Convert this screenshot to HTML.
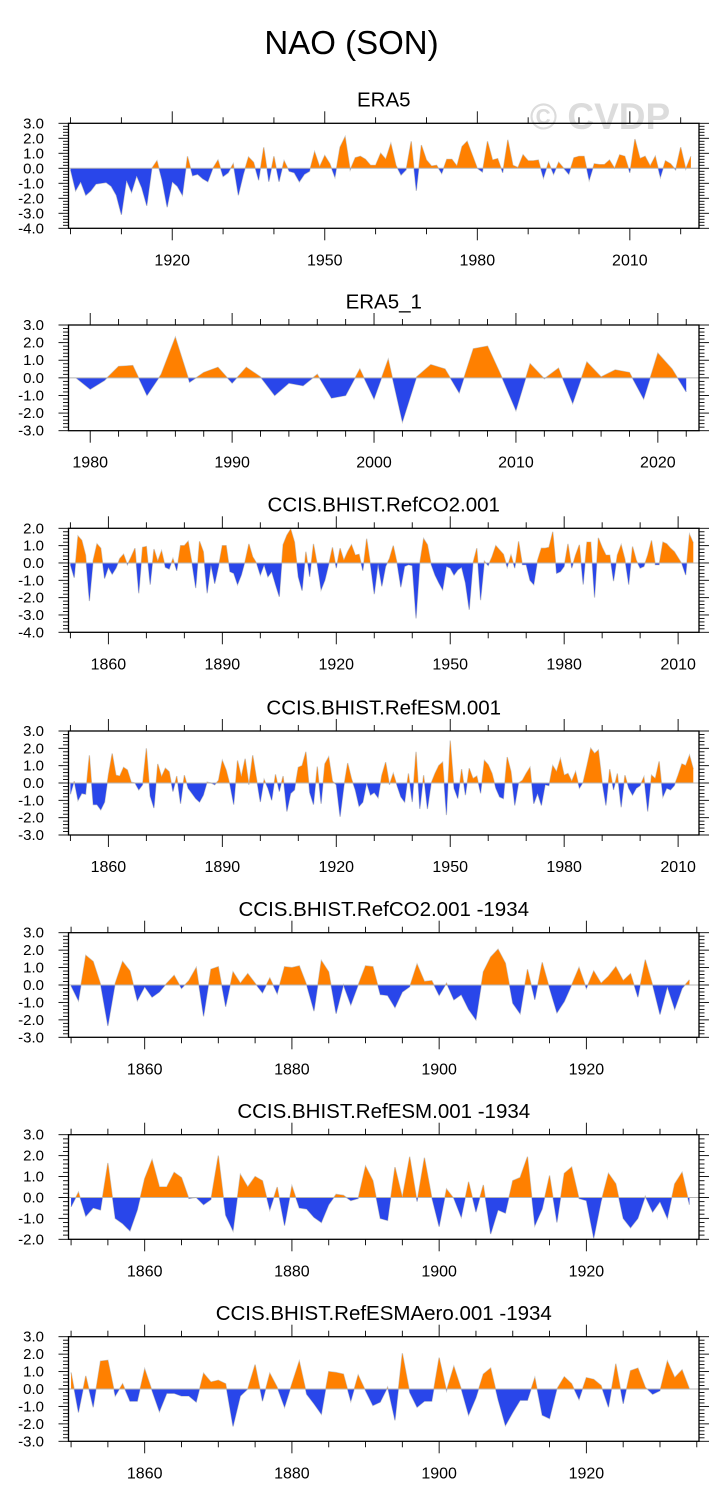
<!DOCTYPE html>
<html><head><meta charset="utf-8"><style>
html,body{margin:0;padding:0;background:#fff;}
svg{display:block;font-family:"Liberation Sans",Arial,sans-serif;}
</style></head>
<body>
<svg id="chart" width="728" height="1510" viewBox="0 0 728 1510" xmlns="http://www.w3.org/2000/svg">
<rect x="0" y="0" width="728" height="1510" fill="#fff"/>
<text x="351.5" y="54" font-size="33" text-anchor="middle" fill="#000">NAO (SON)</text>
<text x="600" y="129" font-size="37" font-weight="bold" text-anchor="middle" fill="#dcdcdc">© CVDP</text>
</svg>
<script>
const era5Start = 1900;
const era5Values = [
-0.1,-1.5,-0.9,-1.8,-1.5,-1.05,-1.0,-0.95,-1.2,-1.8,
-3.1,-0.8,-1.6,-0.5,-1.3,-2.5,0.0,0.5,-0.8,-2.6,
-0.9,-1.2,-1.8,0.8,-0.5,-0.4,-0.7,-0.9,0.0,0.55,
-0.55,-0.3,0.3,-1.8,-0.4,0.75,0.4,-0.8,1.4,-0.9,
0.8,-0.9,0.5,-0.2,-0.3,-0.9,-0.4,-0.2,1.1,0.1,
0.85,0.3,-0.6,1.4,2.1,-0.1,0.7,0.8,0.6,0.2,
0.2,1.0,0.6,1.65,0.2,-0.45,-0.1,1.8,-1.5,1.55,
0.55,0.15,0.2,-0.35,0.6,0.6,0.15,1.45,1.8,0.9,
0.0,-0.25,1.8,0.55,0.65,-0.3,1.9,0.2,0.05,0.9,
0.5,0.5,0.55,-0.65,0.4,-0.4,0.4,0,-0.4,0.7,
0.8,0.8,-0.8,0.3,0.25,0.25,0.55,0,0.9,0.8,
-0.3,1.95,0.65,0.8,0.15,0.8,-0.6,0.5,0.3,-0.1,
1.4,-0.05,0.8];
const era5Ticks = [1920,1950,1980,2010];

const era51Start = 1979;
const era51Values = [
0.0,-0.65,-0.15,0.65,0.7,-1.0,0.2,2.3,-0.25,0.3,0.6,
-0.3,0.6,0.05,-1.0,-0.3,-0.45,0.2,-1.15,-1.0,0.5,
-1.2,1.05,-2.5,0.05,0.75,0.5,-0.85,1.65,1.8,0.05,
-1.85,0.8,-0.05,0.55,-1.45,0.9,0.05,0.45,0.3,-1.2,
1.4,0.5,-0.8];
const era51Ticks = [1980,1990,2000,2010,2020];

const co2Start = 1850;
const co2Values = [
-0.1,-0.85,1.55,1.3,0.45,-2.2,0.15,1.1,0.85,-0.9,
-0.25,-0.65,-0.3,0.25,0.5,-0.1,0.35,0.85,-1.75,0.9,
0.95,-1.25,0.8,0.1,0.7,-0.25,-0.35,0.25,-0.45,1.0,
1.0,1.25,0,-1.45,1.25,0.65,-1.75,-0.1,-1.2,-0.2,
1.0,1.0,-0.5,-0.6,-1.25,-0.7,0.1,1.1,0.35,0,
-0.7,-0.1,-0.8,-0.5,-1.25,-1.95,1.05,1.6,1.95,1.2,
-0.8,-1.6,0.65,-0.8,1.1,-0.1,-1.55,-1.0,-0.1,0.9,
-0.3,0.85,0.15,0.65,1.05,0.45,0.5,-0.45,1.4,-0.1,
-1.8,-0.05,-1.35,-0.2,0.25,1.0,0,-1.4,-0.2,-0.1,
-0.15,-3.2,0,1.4,1.05,-0.1,-0.7,-1.15,-1.55,-0.2,
-0.3,-0.7,-0.4,-0.25,-1.15,-2.7,0,0.85,-2.15,0.1,
-0.15,0.35,1.0,0.75,0.5,-0.25,0.45,-0.3,1.25,-0.1,
-0.1,-1.0,-1.25,0.15,0.85,0.85,0.9,1.8,-0.6,-0.5,
-0.2,1.1,-0.3,0.45,1.05,-1.25,1.2,1.2,-2.0,1.45,
0.9,0.45,0.45,-1.05,0.45,1.05,0.2,-1.25,0.95,0.15,
-0.3,-0.2,0.45,1.3,-0.1,-0.1,1.2,1.1,0.85,0.65,
0.3,-0.05,-0.7,1.65,1.15];
const longTicks = [1860,1890,1920,1950,1980,2010];

const esmStart = 1850;
const esmValues = [
-0.65,0.1,-1.0,-0.6,-0.65,1.6,-1.25,-1.25,-1.55,-1.1,
0.45,1.7,0.45,0.4,0.9,0.75,0.05,0,-0.4,-0.1,
2.0,-0.75,-1.45,1.1,0.35,0.85,0.65,-0.5,0.4,-1.2,
0.45,-0.3,-0.6,-0.9,-1.1,-0.7,0.05,0,-0.1,0.15,
1.3,0.75,-0.1,-1.25,1.3,0.35,1.4,-0.1,1.6,0.25,
-1.1,0.2,-0.3,-1.0,0.5,-0.5,0.4,-1.65,-0.6,-0.4,
0.9,1.0,1.8,-0.55,-1.25,0.95,-1.2,1.1,1.5,0.1,
-0.1,-1.95,-0.2,1.15,0.25,-0.4,-1.35,-1.1,0,-0.7,
-0.55,-0.85,0.45,1.2,-0.1,0.55,-0.15,-0.8,-1.1,0.55,
-1.1,1.8,-1.5,0.45,-1.5,0,0.55,1.0,1.2,-1.85,
2.45,-0.3,-0.9,0.8,-0.7,0.85,0.25,0.4,-0.6,1.3,
1.05,0.55,-0.3,-0.8,-0.9,1.5,0.65,-1.3,0,0.15,
0.55,0.9,-1.2,-0.6,-1.3,-0.1,-0.15,1.0,0.65,1.4,
0.45,0.55,0.1,0.65,-0.3,0.05,1.0,2.0,1.7,1.9,
0.05,-1.3,0.8,-0.4,0.55,-1.4,0.45,-0.3,-0.7,-0.3,
-0.15,0.35,-1.65,0.45,0.25,1.25,-0.8,-0.3,-0.4,-0.15,
0.45,1.1,1.0,1.6,0.8];

const co2ShortStart = 1850;
const co2ShortValues = [
-0.05,-0.9,1.7,1.35,0.05,-2.35,0.1,1.35,0.8,-0.9,
-0.1,-0.7,-0.4,0.1,0.55,-0.2,0.25,1.0,-1.8,0.9,
1.05,-1.25,0.75,0.1,0.65,0.1,-0.45,0.4,-0.5,1.05,
1.0,1.1,0,-1.5,1.4,0.75,-1.65,0,-1.15,0,
1.1,1.05,-0.55,-0.6,-1.3,-0.4,-0.1,1.2,0.2,0.25,
-0.6,0.1,-0.85,-0.55,-1.4,-2.0,0.75,1.6,2.05,1.25,
-1.05,-1.65,0.9,-0.85,1.3,-0.2,-1.6,-0.95,0,1.0,
-0.2,0.8,0.1,0.5,1.05,0.25,0.65,-0.7,1.45,0,
-1.7,-0.1,-1.4,-0.2,0.3];
const shortTicks = [1860,1880,1900,1920];

const esmShortStart = 1850;
const esmShortValues = [
-0.45,0.25,-0.9,-0.5,-0.6,1.65,-1.0,-1.25,-1.6,-0.6,
0.9,1.8,0.5,0.5,1.2,0.95,-0.05,0,-0.35,-0.1,
2.0,-0.85,-1.6,1.1,0.5,1.0,0.8,-0.6,0.5,-1.35,
0.55,-0.5,-0.55,-0.95,-1.2,-0.35,0.15,0.1,-0.15,-0.05,
1.5,0.8,-1.0,-1.1,1.45,0,1.95,-0.2,1.9,0,
-1.4,0.4,-0.05,-0.95,0.75,-0.7,0.6,-1.75,-0.6,-0.75,
0.8,0.95,1.95,-1.35,-0.55,1.05,-1.2,1.15,1.45,-0.05,
-0.15,-1.95,-0.2,1.15,0.65,-1.0,-1.45,-1.0,0.05,-0.7,
-0.2,-1.0,0.65,1.2,-0.35];

const aeroStart = 1850;
const aeroValues = [
0.95,-1.35,0.75,-1.05,1.6,1.65,-0.4,0.3,-0.7,-0.7,
1.15,-0.1,-1.3,-0.25,-0.25,-0.4,-0.4,-0.75,0.9,0.4,
0.5,0.3,-2.15,-0.4,0,1.4,-0.7,0.9,0.1,-1.05,
0.3,1.6,-0.3,-0.85,-1.45,1.0,0.95,0.85,-0.7,0.8,
-0.1,-0.95,-0.75,0.1,-1.8,2.05,-0.2,-1.05,-0.7,-0.7,
1.8,-0.1,1.3,0,-1.5,-0.5,0.85,1.2,-0.6,-2.1,
-1.35,-0.65,-0.65,0.65,-1.5,-1.7,0,0.7,0.3,-0.6,
0.65,0.55,0.2,-1.05,1.45,-0.85,1.05,1.2,0.1,-0.3,
-0.1,1.6,0.65,1.1,0];

const NS = "http://www.w3.org/2000/svg";
const svg = document.getElementById('chart');
const ORANGE = "#ff8000", BLUE = "#2946ea";
const LEFT = 68.5, RIGHT = 699;

function mk(tag, attrs, parent) {
  const e = document.createElementNS(NS, tag);
  for (const k in attrs) e.setAttribute(k, attrs[k]);
  parent.appendChild(e);
  return e;
}

function drawPanel(p) {
  const g = mk('g', {}, svg);
  
  
  const sx = yr => LEFT + (yr - p.x0) / (p.x1 - p.x0) * (RIGHT - LEFT);
  const sy = v => p.top + (p.ymax - v) / (p.ymax - p.ymin) * (p.bottom - p.top);

  const t = mk('text', {x: (LEFT + RIGHT) / 2, y: p.top - 16.6, 'font-size': 20.5, 'text-anchor': 'middle', fill: '#000'}, g);
  t.textContent = p.title;
  
  

  // points with zero crossings
  const pts = [];
  for (let i = 0; i < p.values.length; i++) {
    const yr = p.start + i, v = p.values[i];
    if (i > 0) {
      const pv = p.values[i - 1];
      if ((pv > 0 && v < 0) || (pv < 0 && v > 0)) {
        const f = pv / (pv - v);
        pts.push([yr - 1 + f, 0]);
      }
    }
    pts.push([yr, v]);
  }
  const z = sy(0);
  const line = mk('polyline', {points: pts.map(q => sx(q[0]).toFixed(2) + ',' + sy(q[1]).toFixed(2)).join(' '), fill: 'none', stroke: '#c8c8c8', 'stroke-width': 1.2}, g);
  
  
  function poly(fn, color, nm) {
    let d = 'M' + sx(pts[0][0]).toFixed(2) + ',' + z.toFixed(2);
    pts.forEach(q => { d += ' L' + sx(q[0]).toFixed(2) + ',' + sy(fn(q[1])).toFixed(2); });
    d += ' L' + sx(pts[pts.length - 1][0]).toFixed(2) + ',' + z.toFixed(2) + ' Z';
    const e = mk('path', {d: d, fill: color, stroke: 'none'}, g);
    
    
  }
  poly(v => Math.max(v, 0), ORANGE, p.name + '-positive-fill');
  poly(v => Math.min(v, 0), BLUE, p.name + '-negative-fill');

  const zl = mk('line', {x1: LEFT, x2: RIGHT, y1: z, y2: z, stroke: '#b4b4b4', 'stroke-width': 1}, g);
  
  

  const box = mk('rect', {x: LEFT, y: p.top, width: RIGHT - LEFT, height: p.bottom - p.top, fill: 'none', stroke: '#000', 'stroke-width': 1.3}, g);
  
  

  // y ticks
  const kMin = Math.round(p.ymin * 5), kMax = Math.round(p.ymax * 5);
  for (let k = kMin; k <= kMax; k++) {
    const y = sy(k / 5), major = (k % 5 === 0);
    const len = major ? 10 : 5.5;
    mk('line', {x1: LEFT - len, x2: LEFT, y1: y, y2: y, stroke: '#000', 'stroke-width': 0.9}, g);
    mk('line', {x1: RIGHT, x2: RIGHT + len, y1: y, y2: y, stroke: '#000', 'stroke-width': 0.9}, g);
    if (major) {
      const lb = mk('text', {x: 44, y: y + 5, 'font-size': 15, 'text-anchor': 'end', fill: '#000'}, g);
      lb.textContent = (k / 5).toFixed(1);
      
      
    }
  }
  // x ticks
  for (let yr = p.minorFrom; yr <= p.x1; yr += p.minorStep) {
    if (yr < p.x0) continue;
    const x = sx(yr), major = p.ticks.indexOf(yr) >= 0;
    const len = major ? 12 : 6;
    mk('line', {x1: x, x2: x, y1: p.bottom, y2: p.bottom + len, stroke: '#000', 'stroke-width': 0.9}, g);
    mk('line', {x1: x, x2: x, y1: p.top - len, y2: p.top, stroke: '#000', 'stroke-width': 0.9}, g);
  }
  p.ticks.forEach(yr => {
    const lb = mk('text', {x: sx(yr), y: p.bottom + 37, 'font-size': 16, 'text-anchor': 'middle', fill: '#000'}, g);
    lb.textContent = String(yr);
    
    
  });
}

drawPanel({name: 'era5', title: 'ERA5', top: 123.3, bottom: 228.3, ymax: 3, ymin: -4, x0: 1899.6, x1: 2023.6, start: era5Start, values: era5Values, ticks: era5Ticks, minorFrom: 1900, minorStep: 10});
drawPanel({name: 'era5-1', title: 'ERA5_1', top: 325, bottom: 430.7, ymax: 3, ymin: -3, x0: 1978.47, x1: 2022.9, start: era51Start, values: era51Values, ticks: era51Ticks, minorFrom: 1980, minorStep: 2});
drawPanel({name: 'refco2', title: 'CCIS.BHIST.RefCO2.001', top: 528.3, bottom: 632.3, ymax: 2, ymin: -4, x0: 1849.5, x1: 2015.5, start: co2Start, values: co2Values, ticks: longTicks, minorFrom: 1850, minorStep: 10});
drawPanel({name: 'refesm', title: 'CCIS.BHIST.RefESM.001', top: 731, bottom: 835, ymax: 3, ymin: -3, x0: 1849.5, x1: 2015.5, start: esmStart, values: esmValues, ticks: longTicks, minorFrom: 1850, minorStep: 10});
drawPanel({name: 'refco2-1934', title: 'CCIS.BHIST.RefCO2.001 -1934', top: 932.7, bottom: 1037.3, ymax: 3, ymin: -3, x0: 1849.65, x1: 1935.3, start: co2ShortStart, values: co2ShortValues, ticks: shortTicks, minorFrom: 1850, minorStep: 5});
drawPanel({name: 'refesm-1934', title: 'CCIS.BHIST.RefESM.001 -1934', top: 1134.7, bottom: 1239.3, ymax: 3, ymin: -2, x0: 1849.65, x1: 1935.3, start: esmShortStart, values: esmShortValues, ticks: shortTicks, minorFrom: 1850, minorStep: 5});
drawPanel({name: 'refesmaero-1934', title: 'CCIS.BHIST.RefESMAero.001 -1934', top: 1336.7, bottom: 1441.3, ymax: 3, ymin: -3, x0: 1849.65, x1: 1935.3, start: aeroStart, values: aeroValues, ticks: shortTicks, minorFrom: 1850, minorStep: 5});
</script>
</body></html>
